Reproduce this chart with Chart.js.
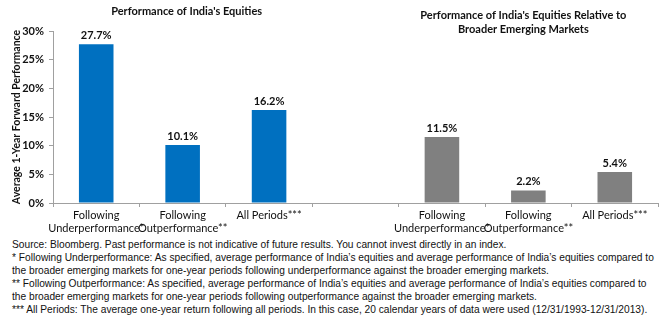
<!DOCTYPE html>
<html>
<head>
<meta charset="utf-8">
<script src="https://cdn.jsdelivr.net/npm/chart.js@4.4.1/dist/chart.umd.min.js"></script>
<style>
  html, body { margin: 0; padding: 0; background: #fff; }
  #wrap { width: 667px; height: 236px; position: relative; }
  .notes {
    font-family: "Liberation Sans", Arial, sans-serif;
    font-size: 10.2px;
    line-height: 13px;
    color: #111;
    padding-left: 12px;
    margin-top: 2px;
    white-space: nowrap;
  }
</style>
</head>
<body>
<div id="wrap"><canvas id="chart"></canvas></div>
<div class="notes">
  <div>Source: Bloomberg. Past performance is not indicative of future results. You cannot invest directly in an index.</div>
  <div>* Following Underperformance: As specified, average performance of India’s equities and average performance of India’s equities compared to</div>
  <div>the broader emerging markets for one-year periods following underperformance against the broader emerging markets.</div>
  <div>** Following Outperformance: As specified, average performance of India’s equities and average performance of India’s equities compared to</div>
  <div>the broader emerging markets for one-year periods following outperformance against the broader emerging markets.</div>
  <div>*** All Periods: The average one-year return following all periods. In this case, 20 calendar years of data were used (12/31/1993-12/31/2013).</div>
</div>
<script>
const groupLabels = [['Following', 'Underperformance*'], ['Following', 'Outperformance**'], 'All Periods***'];
const indiaValues = [27.7, 10.1, 16.2];
const relativeValues = [11.5, 2.2, 5.4];
const yTicks = [0, 5, 10, 15, 20, 25, 30];

const BLUE = '#0070C0';
const GREY = '#808080';
const FONT = 'Lato, "Noto Sans", sans-serif';

// one category axis, with an empty slot between the two groups
const labels = [...groupLabels, '', ...groupLabels];
const values = [...indiaValues, null, ...relativeValues];
const colors = [...indiaValues.map(() => BLUE), 'rgba(0,0,0,0)', ...relativeValues.map(() => GREY)];

const barLabels = {
    id: 'barLabels',
    afterDatasetsDraw(chart) {
        const ctx = chart.ctx;
        const meta = chart.getDatasetMeta(0);
        ctx.save();
        ctx.font = 'bold 11px ' + FONT;
        ctx.fillStyle = '#111';
        ctx.textAlign = 'center';
        ctx.textBaseline = 'middle';
        meta.data.forEach((bar, i) => {
            if (values[i] == null) return;
            ctx.fillText(values[i].toFixed(1) + '%', bar.x, bar.y - 9);
        });
        ctx.restore();
    }
};

const panelTitles = {
    id: 'panelTitles',
    afterDraw(chart) {
        const ctx = chart.ctx;
        const x = chart.scales.x;
        ctx.save();
        ctx.font = 'bold 11px ' + FONT;
        ctx.fillStyle = '#111';
        ctx.textAlign = 'center';
        ctx.textBaseline = 'middle';
        ctx.fillText("Performance of India's Equities", x.getPixelForValue(1) + 4, 11);
        const rx = x.getPixelForValue(5) - 5;
        ctx.fillText("Performance of India's Equities Relative to", rx, 15);
        ctx.fillText('Broader Emerging Markets', rx, 29);
        ctx.restore();
    }
};

new Chart(document.getElementById('chart'), {
    type: 'bar',
    data: {
        labels: labels,
        datasets: [{
            data: values,
            backgroundColor: colors,
            borderWidth: 0,
            barPercentage: 0.4,
            categoryPercentage: 1
        }]
    },
    options: {
        responsive: true,
        maintainAspectRatio: false,
        animation: false,
        layout: { padding: { top: 31, right: 9, left: 0, bottom: 0 } },
        plugins: {
            legend: { display: false },
            tooltip: { enabled: false }
        },
        scales: {
            x: {
                afterFit(scale) { scale.height = 33; },
                grid: {
                    offset: true,
                    drawOnChartArea: false,
                    drawTicks: true,
                    tickLength: 4,
                    color: '#a0a0a0'
                },
                border: { color: '#a0a0a0' },
                ticks: {
                    autoSkip: false,
                    maxRotation: 0,
                    padding: 2,
                    color: '#111',
                    font: { family: FONT, size: 11, lineHeight: 1.2 }
                }
            },
            y: {
                min: 0,
                max: 30,
                afterFit(scale) { scale.width = 53; },
                afterBuildTicks(scale) { scale.ticks = yTicks.map(v => ({ value: v })); },
                grid: {
                    drawOnChartArea: false,
                    drawTicks: true,
                    tickLength: 4,
                    color: '#a0a0a0'
                },
                border: { color: '#a0a0a0' },
                ticks: {
                    padding: 5,
                    color: '#111',
                    font: { family: FONT, size: 11, weight: 'bold' },
                    callback: v => v + '%'
                },
                title: {
                    display: true,
                    text: 'Average 1-Year Forward Performance',
                    color: '#111',
                    padding: { top: 10, bottom: 0 },
                    font: { family: FONT, size: 10.5, weight: 'bold' }
                }
            }
        }
    },
    plugins: [barLabels, panelTitles]
});
</script>
</body>
</html>
